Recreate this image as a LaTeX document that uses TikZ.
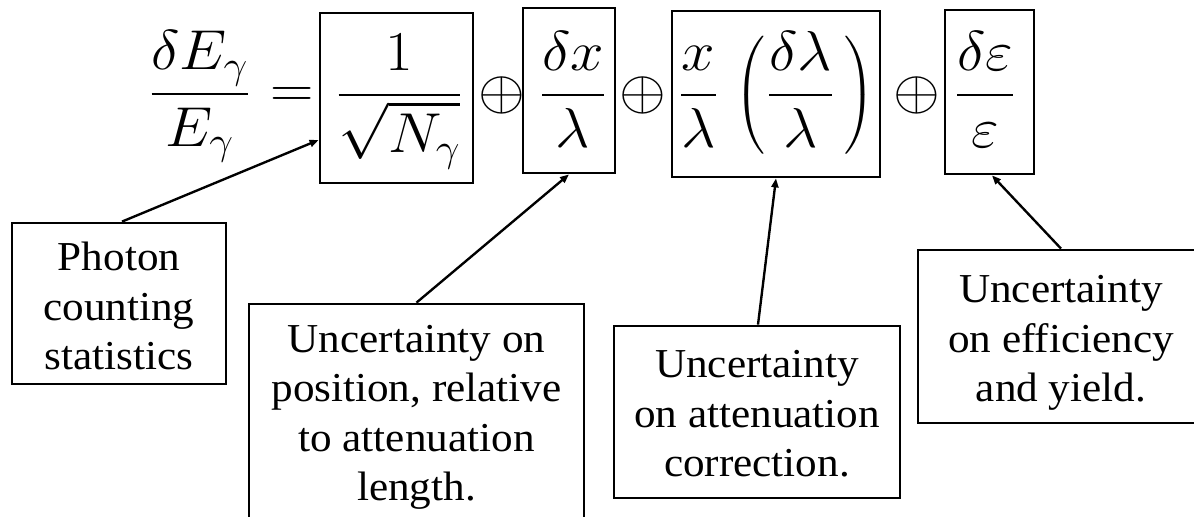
\documentclass[tikz,border=0pt]{standalone}
\usepackage{fix-cm}
\usepackage{exscale}
\usepackage[no-math]{fontspec}
\newfontfamily\labfont{Liberation Serif}
\usetikzlibrary{arrows.meta,calc}
\newcommand\mathcontent[1]{\scalebox{1.07}[1]{$\displaystyle #1$}}
\newcommand\labtext[1]{\scalebox{1.05}[1]{\begin{tabular}{@{}c@{}}#1\end{tabular}}}
\newcommand\bigparen[1]{\vcenter{\hbox{\scalebox{0.75}{$\left#1\vcenter{\hbox{\rule{0pt}{2.9em}}}\right.$}}}}
\begin{document}
\begin{tikzpicture}[x=0.02cm,y=-0.02cm,
  fbox/.style={draw, line width=1.6pt, inner sep=0pt},
  mth/.style={inner sep=0pt, font=\fontsize{32}{38}\selectfont},
  lab/.style={inner sep=0pt, font=\labfont\fontsize{23.4}{27.9}\selectfont},
  conn/.style={line width=1.35pt, -{Triangle[length=1.8mm,width=1.4mm]}}]
\useasboundingbox (0,0) rectangle (1194,517);
\clip (0,0) rectangle (1194,517);
\fill[white] (0,0) rectangle (1194,517);

% left-hand side
\node[mth, anchor=base] (lhs) at (200,108) {\mathcontent{\frac{\delta E_\gamma}{E_\gamma}}};
\node[mth, anchor=base] (eq) at (292,108) {\mathcontent{=}};

% formula boxes
\node[fbox, minimum width=3.06cm, minimum height=3.4cm] (b1) at (396.5,98) {};
\node[mth, anchor=base] (c1) at (399.5,109) {\mathcontent{\frac{1}{\sqrt{\raisebox{0pt}[\height][0pt]{$N_\gamma$}}}}};
\node[mth] (o1) at (502,95) {\mathcontent{\oplus}};
\node[fbox, minimum width=1.84cm, minimum height=3.3cm] (b2) at (569,90.5) {};
\node[mth, anchor=base] (c2) at (573,109) {\mathcontent{\frac{\delta x}{\lambda}}};
\node[mth] (o2) at (643,95) {\mathcontent{\oplus}};
\node[fbox, minimum width=4.16cm, minimum height=3.32cm] (b3) at (776,94) {};
\node[mth, anchor=base] (c3) at (778,109) {\mathcontent{\frac{x}{\lambda}\;\bigparen(\frac{\delta\lambda}{\lambda}\mskip3mu\bigparen)}};
\node[mth] (o3) at (917,95) {\mathcontent{\oplus}};
\node[fbox, minimum width=1.78cm, minimum height=3.28cm] (b4) at (989.5,92) {};
\node[mth, anchor=base] (c4) at (985,109) {\mathcontent{\frac{\delta\varepsilon}{\varepsilon}}};

% explanation boxes
\node[fbox, minimum width=4.28cm, minimum height=3.22cm] (pho) at (119,303.5) {};
\node[lab] (phot) at (119,310.2) {\labtext{Photon\\counting\\statistics}};
\node[fbox, minimum width=6.7cm, minimum height=4.52cm] (pos) at (416.5,417) {};
\node[lab] (post) at (416.5,416.7) {\labtext{Uncertainty on\\position, relative\\to attenuation\\length.}};
\node[fbox, minimum width=5.72cm, minimum height=3.44cm] (att) at (757,412) {};
\node[lab] (attt) at (757,417.2) {\labtext{Uncertainty\\on attenuation\\correction.}};
\node[fbox, minimum width=5.72cm, minimum height=3.46cm] (eff) at (1061,336.5) {};
\node[lab] (efft) at (1061,342.2) {\labtext{Uncertainty\\on efficiency\\and yield.}};

% connectors
\draw[conn] ([xshift=0.06cm]pho.north) -- ([yshift=-0.84cm]b1.west);
\draw[conn] (pos.north) -- (b2.south);
\draw[conn] ([xshift=0.02cm]att.north) -- (b3.south);
\draw[conn] (eff.north) -- ([xshift=0.05cm]b4.south);
\end{tikzpicture}
\end{document}
